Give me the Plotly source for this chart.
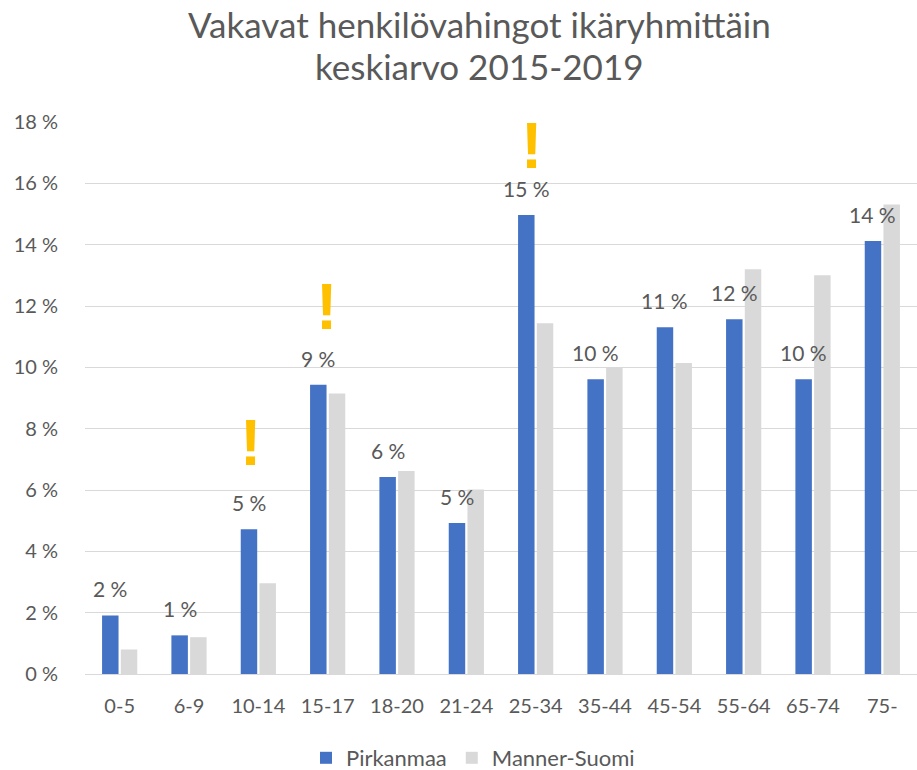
import plotly.graph_objects as go

categories = ["0-5", "6-9", "10-14", "15-17", "18-20", "21-24", "25-34",
              "35-44", "45-54", "55-64", "65-74", "75-"]
pirkanmaa = [1.91, 1.26, 4.72, 9.43, 6.42, 4.92, 14.97, 9.61, 11.31, 11.57, 9.61, 14.12]
manner_suomi = [0.80, 1.20, 2.96, 9.15, 6.62, 6.02, 11.44, 10.01, 10.14, 13.20, 13.00, 15.31]
alert_categories = ["10-14", "15-17", "25-34"]
alert_levels = [7.52, 11.98, 17.22]
alert_shifts = [-8, -1, -4]
y_ticks = [0, 2, 4, 6, 8, 10, 12, 14, 16, 18]
y_tick_labels = [f"{t} %" for t in y_ticks]

TXT = "#595959"
FONT = "Lato"

fig = go.Figure()
fig.add_trace(go.Bar(name="Pirkanmaa", x=categories, y=pirkanmaa,
                     marker=dict(color="#4472C4", line=dict(width=0))))
fig.add_trace(go.Bar(name="Manner-Suomi", x=categories, y=manner_suomi,
                     marker=dict(color="#D9D9D9", line=dict(width=0))))

annotations = []
for c, v in zip(categories, pirkanmaa):
    annotations.append(dict(x=c, y=v, xref="x", yref="y", text=f"{round(v)} %",
                            showarrow=False, yanchor="bottom", xshift=-9.5, yshift=12,
                            font=dict(family=FONT, size=21, color=TXT)))
for c, v, s in zip(alert_categories, alert_levels, alert_shifts):
    annotations.append(dict(x=c, y=v, xref="x", yref="y", text="<b>!</b>",
                            showarrow=False, yanchor="middle", xshift=s,
                            height=50, valign="middle",
                            font=dict(family="Liberation Sans", size=64, color="#FFC000")))
annotations.append(dict(x=(479 - 85) / 832, y=1 + (122 - 24) / 552, xref="paper", yref="paper",
                        text="Vakavat henkilövahingot ikäryhmittäin", showarrow=False,
                        xanchor="center", yanchor="middle",
                        font=dict(family=FONT, size=35, color=TXT)))
annotations.append(dict(x=(479 - 85) / 832, y=1 + (122 - 66) / 552, xref="paper", yref="paper",
                        text="keskiarvo 2015-2019", showarrow=False,
                        xanchor="center", yanchor="middle",
                        font=dict(family=FONT, size=35, color=TXT)))

fig.update_layout(
    width=917, height=770,
    margin=dict(l=85, r=0, t=122, b=96, autoexpand=False),
    paper_bgcolor="white", plot_bgcolor="white",
    barmode="group", bargap=0.46, bargroupgap=0.12,
    font=dict(family=FONT, size=20, color=TXT),
    showlegend=True,
    legend=dict(orientation="h", x=(473 - 85) / 832, xanchor="center",
                y=(674 - 758) / 552, yanchor="middle",
                font=dict(family=FONT, size=22, color=TXT), traceorder="normal"),
    annotations=annotations,
)
fig.update_xaxes(type="category", showgrid=False, showline=False, zeroline=False,
                 ticks="outside", ticklen=14, tickcolor="rgba(0,0,0,0)",
                 tickfont=dict(family=FONT, size=20, color=TXT))
fig.update_yaxes(range=[0, 18], tickmode="array", tickvals=y_ticks, ticktext=y_tick_labels,
                 showgrid=True, gridcolor="#D9D9D9", gridwidth=1.3,
                 zeroline=True, zerolinecolor="#D9D9D9", zerolinewidth=1.3,
                 showline=False, ticks="outside", ticklen=22, tickcolor="rgba(0,0,0,0)",
                 tickfont=dict(family=FONT, size=20, color=TXT))

fig.write_html("out.html", config={"displayModeBar": False},
               post_script="document.body.style.margin='0';document.body.style.padding='0';")
